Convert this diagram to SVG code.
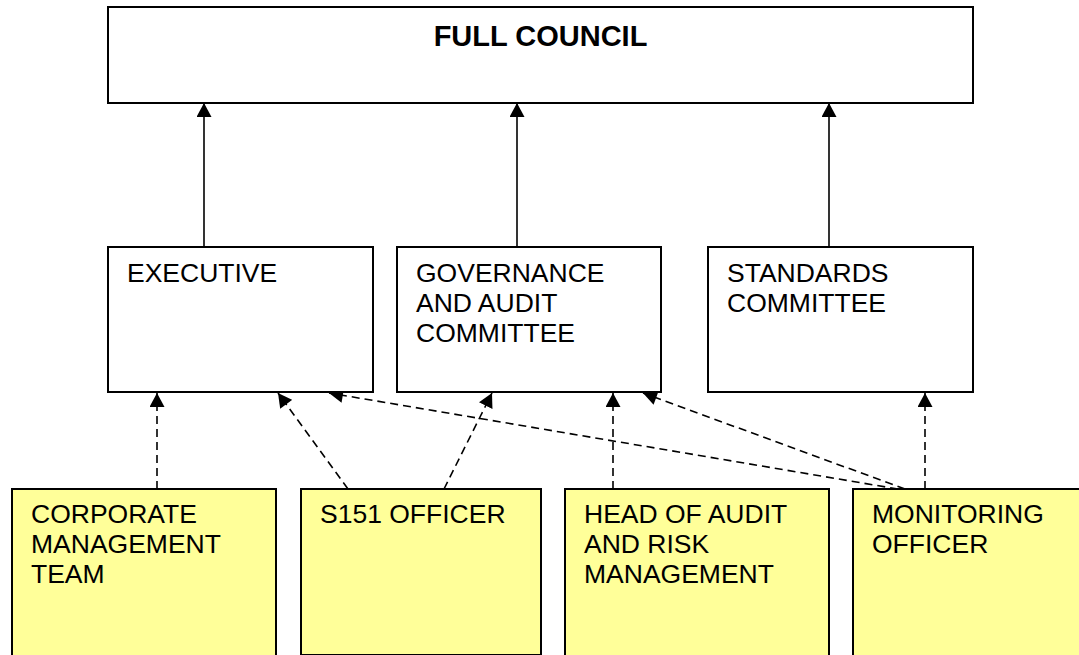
<svg xmlns="http://www.w3.org/2000/svg" width="1079" height="655" viewBox="0 0 1079 655">
  <style>
    .box { fill: #ffffff; stroke: #000000; stroke-width: 2; }
    .officer { fill: #ffff99; stroke: #000000; stroke-width: 2; }
    .label { font-family: "Liberation Sans", Arial, sans-serif; font-size: 26.5px; fill: #000000; }
    .title { font-family: "Liberation Sans", Arial, sans-serif; font-size: 29px; font-weight: bold; fill: #000000; }
    .link { fill: none; stroke: #000000; stroke-width: 1.6; }
    .dashed { stroke-dasharray: 8 5; }
  </style>
  <defs>
    <marker id="arrow" markerUnits="userSpaceOnUse" markerWidth="15" markerHeight="15" viewBox="0 0 14 15" refX="14" refY="7.5" orient="auto">
      <path d="M0,0 L14,7.5 L0,15 Z" fill="#000000"/>
    </marker>
  </defs>

  <rect width="1079" height="655" fill="#ffffff"/>

  <!-- connectors -->
  <g id="connectors">
    <!-- reporting lines to Full Council -->
    <line class="link" x1="204" y1="247" x2="204" y2="103" marker-end="url(#arrow)"/>
    <line class="link" x1="517" y1="247" x2="517" y2="103" marker-end="url(#arrow)"/>
    <line class="link" x1="829" y1="247" x2="829" y2="103" marker-end="url(#arrow)"/>
    <!-- officer advice lines -->
    <line class="link dashed" x1="157" y1="489" x2="157" y2="393" marker-end="url(#arrow)"/>
    <line class="link dashed" x1="348" y1="489" x2="278" y2="393" marker-end="url(#arrow)"/>
    <line class="link dashed" x1="444" y1="489" x2="492" y2="393" marker-end="url(#arrow)"/>
    <line class="link dashed" x1="613" y1="489" x2="613" y2="393" marker-end="url(#arrow)"/>
    <line class="link dashed" x1="898" y1="489" x2="329" y2="393" marker-end="url(#arrow)"/>
    <line class="link dashed" x1="905" y1="489" x2="643" y2="393" marker-end="url(#arrow)"/>
    <line class="link dashed" x1="925" y1="489" x2="925" y2="393" marker-end="url(#arrow)"/>
  </g>

  <!-- Full Council -->
  <g id="full-council">
    <rect class="box" x="108" y="7" width="865" height="96"/>
    <text class="title" x="540.5" y="46" text-anchor="middle">FULL COUNCIL</text>
  </g>

  <!-- committees -->
  <g id="executive">
    <rect class="box" x="108" y="247" width="265" height="145"/>
    <text class="label" x="127" y="282">EXECUTIVE</text>
  </g>
  <g id="governance-audit">
    <rect class="box" x="397" y="247" width="264" height="145"/>
    <text class="label" x="416" y="282">GOVERNANCE<tspan x="416" dy="30">AND AUDIT</tspan><tspan x="416" dy="30">COMMITTEE</tspan></text>
  </g>
  <g id="standards">
    <rect class="box" x="708" y="247" width="265" height="145"/>
    <text class="label" x="727" y="282">STANDARDS<tspan x="727" dy="30">COMMITTEE</tspan></text>
  </g>

  <!-- officers -->
  <g id="corporate-management">
    <rect class="officer" x="12" y="489" width="264" height="170"/>
    <text class="label" x="31" y="523">CORPORATE<tspan x="31" dy="30">MANAGEMENT</tspan><tspan x="31" dy="30">TEAM</tspan></text>
  </g>
  <g id="s151-officer">
    <rect class="officer" x="301" y="489" width="240" height="166"/>
    <text class="label" x="320" y="523">S151 OFFICER</text>
  </g>
  <g id="head-of-audit">
    <rect class="officer" x="565" y="489" width="264" height="170"/>
    <text class="label" x="584" y="523">HEAD OF AUDIT<tspan x="584" dy="30">AND RISK</tspan><tspan x="584" dy="30">MANAGEMENT</tspan></text>
  </g>
  <g id="monitoring-officer">
    <rect class="officer" x="853" y="489" width="240" height="170"/>
    <text class="label" x="872" y="523">MONITORING<tspan x="872" dy="30">OFFICER</tspan></text>
  </g>
</svg>
